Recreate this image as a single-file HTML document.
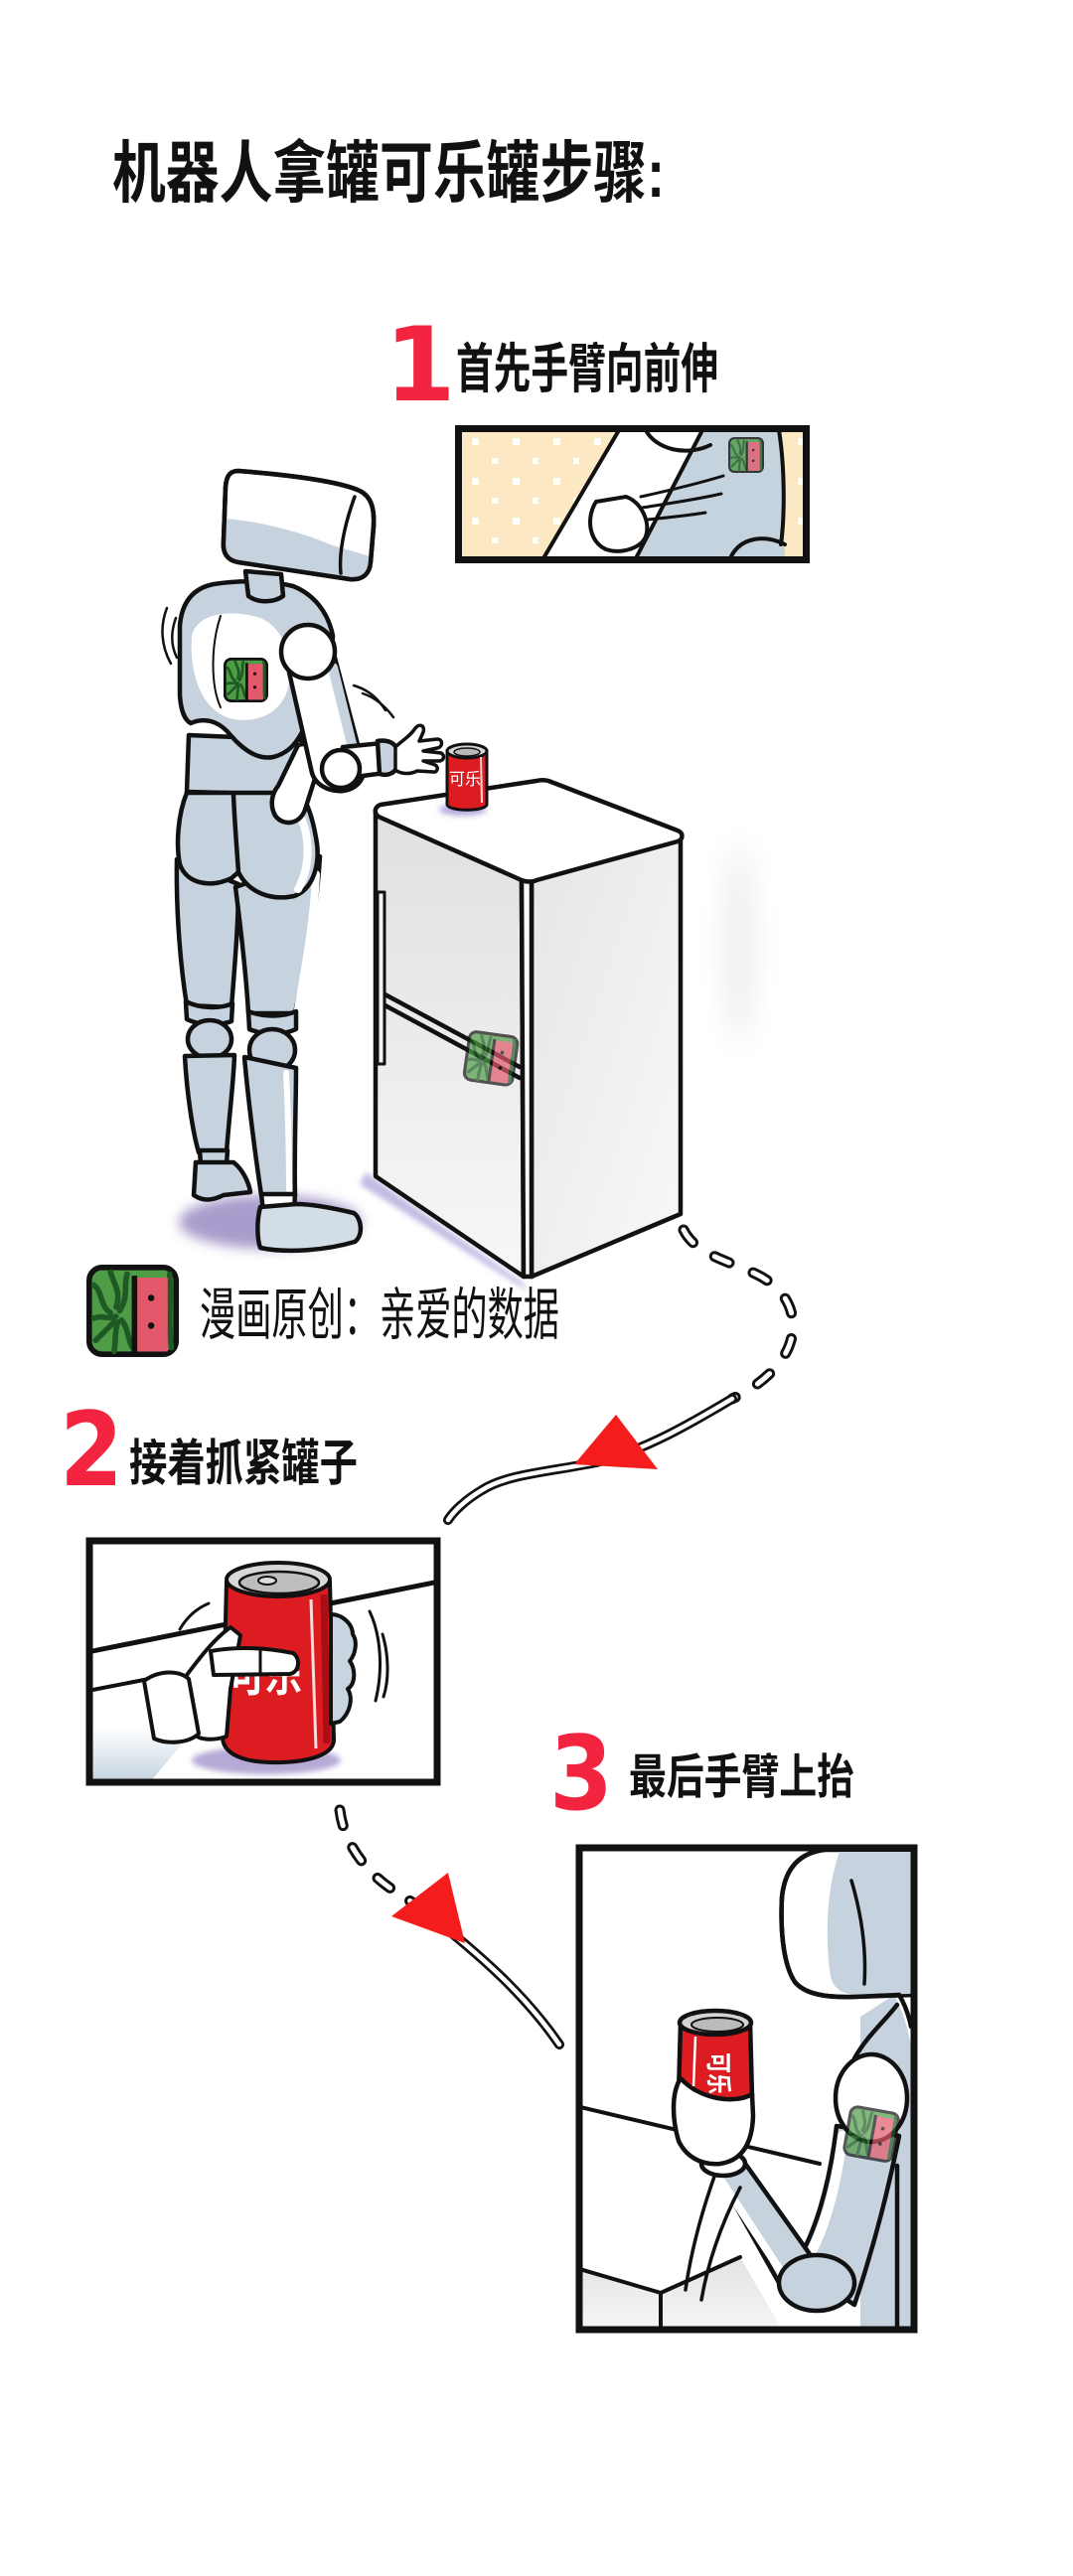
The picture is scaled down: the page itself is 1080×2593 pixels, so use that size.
<!DOCTYPE html>
<html><head><meta charset="utf-8">
<style>
html,body{margin:0;padding:0;background:#fff;}
svg{display:block;}
.t{font-family:"Liberation Sans","Noto Sans CJK SC",sans-serif;fill:#111;}
.n{font-family:"DejaVu Sans","Liberation Sans",sans-serif;font-weight:700;fill:#f2243f;}
</style></head><body>
<svg width="1080" height="2593" viewBox="0 0 1080 2593" xmlns="http://www.w3.org/2000/svg">
<defs>
 <filter id="b14" x="-100%" y="-50%" width="300%" height="200%"><feGaussianBlur stdDeviation="14"/></filter>
 <filter id="b6" x="-50%" y="-50%" width="200%" height="200%"><feGaussianBlur stdDeviation="6"/></filter>
 <filter id="b3" x="-50%" y="-50%" width="200%" height="200%"><feGaussianBlur stdDeviation="3"/></filter>
 <linearGradient id="fl" x1="0" y1="0" x2="0" y2="1"><stop offset="0" stop-color="#e0e0e0"/><stop offset="1" stop-color="#f7f7f7"/></linearGradient>
 <linearGradient id="fr" x1="0" y1="0" x2="1" y2="1"><stop offset="0" stop-color="#e6e6e6"/><stop offset="1" stop-color="#f8f8f8"/></linearGradient>
 <linearGradient id="arm2" x1="0" y1="0" x2="0" y2="1"><stop offset="0" stop-color="#ffffff"/><stop offset="0.45" stop-color="#ffffff"/><stop offset="1" stop-color="#c5d3df"/></linearGradient>
 <linearGradient id="cnt" x1="0" y1="0" x2="0" y2="1"><stop offset="0" stop-color="#e2e2e2"/><stop offset="1" stop-color="#f7f7f7"/></linearGradient>
 <pattern id="dots" x="465" y="435" width="41" height="40" patternUnits="userSpaceOnUse"><rect x="10" y="6" width="7" height="7" fill="#fff"/><rect x="30" y="26" width="6" height="6" fill="#fff"/></pattern>
 <clipPath id="p1"><rect x="465" y="435" width="343" height="125"/></clipPath>
 <clipPath id="p2"><rect x="93" y="1554" width="344" height="237"/></clipPath>
 <clipPath id="p3"><rect x="586" y="1863" width="331" height="479"/></clipPath>
 <g id="wm">
  <rect x="3" y="3" width="94" height="94" rx="14" fill="#4f9c46" stroke="#111" stroke-width="6"/>
  <g stroke="#1f5a25" stroke-width="6" fill="none" stroke-linecap="round">
   <path d="M8,22 C18,30 14,44 26,52"/>
   <path d="M26,8 C30,22 38,30 32,46"/>
   <path d="M44,10 C40,24 46,34 36,50"/>
   <path d="M8,58 C18,54 22,60 32,56"/>
   <path d="M10,82 C18,74 22,70 30,62"/>
   <path d="M30,94 C32,82 30,74 34,62"/>
   <path d="M50,90 C44,80 46,70 38,60"/>
   <path d="M90,10 C92,40 88,60 92,90"/>
  </g>
  <rect x="52" y="14" width="36" height="80" fill="#e2596b"/>
  <path d="M52,12 L52,95" stroke="#111" stroke-width="6"/>
  <circle cx="70" cy="36" r="3.5" fill="#111"/>
  <circle cx="70" cy="66" r="3.5" fill="#111"/>
  <circle cx="52" cy="52" r="3" fill="#111"/>
 </g>
</defs>

<!-- TITLE -->
<text class="t" x="113" y="198" font-size="68" font-weight="700" textLength="556" lengthAdjust="spacingAndGlyphs">机器人拿罐可乐罐步骤:</text>

<!-- STEP 1 LABEL -->
<text class="n" x="387" y="403" font-size="103">1</text>
<text class="t" x="459" y="390" font-size="54" font-weight="700" textLength="264" lengthAdjust="spacingAndGlyphs">首先手臂向前伸</text>

<!-- PANEL 1 -->
<g clip-path="url(#p1)">
 <rect x="465" y="435" width="343" height="125" fill="#fde8c4"/>
 <rect x="465" y="435" width="343" height="125" fill="url(#dots)"/>
 <polygon points="623,433 707,433 640,562 547,562" fill="#fff"/>
 <polygon points="707,433 786,433 790,562 640,562" fill="#c5d3df"/>
 <g stroke="#111" stroke-width="4" fill="none" stroke-linecap="round">
  <path d="M623,433 L547,562"/>
  <path d="M707,433 L640,562"/>
  <path d="M650,433 C660,452 690,460 715,448"/>
  <path d="M784,433 C790,470 790,520 786,548"/>
  <path d="M735,562 C745,540 770,538 790,548"/>
 </g>
 <path d="M600,505 C590,520 592,545 610,553 C625,558 645,552 650,540 C655,525 645,505 630,500 Z" fill="#fff" stroke="#111" stroke-width="4"/>
 <g stroke="#111" stroke-width="3" fill="none" stroke-linecap="round">
  <path d="M645,500 C672,494 702,487 728,479"/>
  <path d="M646,511 C672,507 700,503 726,497"/>
  <path d="M652,523 C672,521 692,519 710,516"/>
 </g>
 <use href="#wm" transform="translate(733,440) scale(0.36)" opacity="0.8"/>
</g>
<rect x="461.5" y="431.5" width="350" height="132" fill="none" stroke="#111" stroke-width="7"/>

<!-- FRIDGE side shadow -->
<ellipse cx="744" cy="950" rx="14" ry="100" fill="#ececec" filter="url(#b14)"/>
<!-- FRIDGE bottom purple shadow -->
<path d="M368,1180 L525,1290 L532,1300 L362,1192 Z" fill="#b4a8dc" filter="url(#b3)" opacity="0.8"/>

<!-- MAIN ROBOT -->
<ellipse cx="272" cy="1230" rx="92" ry="27" fill="#a99bcb" filter="url(#b6)"/>
<g stroke="#111" stroke-width="4.5" stroke-linejoin="round" stroke-linecap="round">
 <!-- left leg -->
 <path d="M178,865 C177,920 182,975 188,1012 L233,1014 C236,975 240,930 240,890 Z" fill="#c6d3df"/>
 <path d="M187,1008 C200,1015 222,1016 234,1010 L233,1028 C220,1033 200,1032 188,1026 Z" fill="#c6d3df"/>
 <ellipse cx="211" cy="1046" rx="22" ry="19" fill="#c6d3df"/>
 <path d="M186,1063 C188,1100 194,1140 200,1160 L228,1160 C231,1120 235,1090 236,1062 Z" fill="#c6d3df"/>
 <path d="M201,1158 L229,1158 L228,1172 L202,1172 Z" fill="#c6d3df"/>
 <path d="M197,1170 L195,1203 C205,1210 215,1208 225,1203 L252,1200 C250,1188 243,1176 235,1170 Z" fill="#c6d3df"/>
 <!-- right leg -->
 <path d="M237,893 C243,940 248,985 250,1020 L297,1020 C305,980 318,930 322,862 Z" fill="#c6d3df"/>
 <path d="M300,1016 C307,975 316,930 318,880" stroke="#fff" stroke-width="8" fill="none"/>
 <path d="M250,1018 C265,1024 285,1024 298,1018 L298,1036 C285,1042 265,1042 251,1036 Z" fill="#c6d3df"/>
 <ellipse cx="274" cy="1057" rx="23" ry="21" fill="#c6d3df"/>
 <path d="M246,1064 C250,1110 258,1170 263,1203 L297,1203 C296,1160 298,1110 298,1075 Z" fill="#c6d3df"/>
 <path d="M288,1080 C290,1120 291,1160 291,1198" stroke="#fff" stroke-width="6" fill="none"/>
 <path d="M263,1202 L297,1202 L296,1218 L265,1220 Z" fill="#fff"/>
 <path d="M262,1215 C258,1230 259,1248 262,1256 C290,1262 330,1258 357,1250 C366,1244 364,1226 356,1221 C335,1216 315,1212 298,1212 Z" fill="#d3dde6"/>
 <!-- abdomen + pelvis -->
 <path d="M190,740 L188,797 L303,800 L308,745 Z" fill="#c6d3df"/>
 <path d="M188,798 C179,820 177,850 181,870 C188,890 212,894 233,884 L240,878 C250,898 272,907 296,902 C316,895 323,868 318,843 C314,820 308,806 302,798 Z" fill="#c6d3df"/>
 <path d="M298,815 C312,835 314,870 300,895" stroke="#fff" stroke-width="8" fill="none"/>
 <path d="M240,878 C238,850 236,825 235,800" fill="none"/>
 <!-- torso shell -->
 <path d="M215,588 C195,592 183,605 181,630 L181,700 C182,715 186,725 192,728 C205,722 220,725 232,740 C245,755 260,765 275,762 C292,758 300,745 305,735 L330,700 L335,640 C330,615 315,598 295,590 C270,584 240,584 215,588 Z" fill="#c6d3df"/>
 <path d="M193,640 C198,618 230,612 262,622 C285,632 296,660 290,692 C284,716 262,728 236,724 C210,720 190,690 193,640 Z" fill="#fff" stroke="none"/>
 <path d="M222,620 C212,650 212,690 222,712" fill="none" stroke-width="2"/>
 <!-- left (near hip) arm -->
 <path d="M300,750 C312,746 324,756 322,768 L307,815 C302,830 285,832 277,821 C271,810 274,798 280,791 Z" fill="#fff"/>
 <!-- reaching arm -->
 <path d="M289,668 L337,662 L366,772 C368,790 350,800 333,795 C322,792 316,785 314,778 Z" fill="#fff"/>
 <path d="M335,672 L358,765" stroke="#c6d3df" stroke-width="10" fill="none"/>
 <circle cx="310" cy="656" r="27" fill="#fff"/>
 <path d="M345,752 L385,748 L388,778 L350,783 Z" fill="#fff"/>
 <circle cx="343" cy="774" r="19" fill="#fff"/>
 <path d="M380,746 C390,744 398,748 400,755 L400,772 C396,780 388,781 382,779 Z" fill="#c6d3df"/>
 <path d="M398,752 C405,745 412,742 418,733 C422,728 428,730 426,737 L422,746 L440,744 C446,744 446,752 440,753 L426,756 L444,758 C448,760 447,766 442,766 L426,766 L438,770 C442,772 440,778 436,777 L420,776 C412,780 403,779 398,775 Z" fill="#fff" stroke-width="3.5"/>
 <!-- neck -->
 <path d="M247,575 L250,600 C260,607 275,607 285,600 L283,578 Z" fill="#c6d3df"/>
 <!-- head -->
 <path d="M240,474 C290,478 340,484 362,494 C374,500 377,512 376,530 L373,566 C372,578 365,584 352,583 L240,566 C228,564 224,556 225,545 L227,490 C228,478 232,474 240,474 Z" fill="#fff"/>
 <path d="M227,522 C262,525 302,535 332,548 L372,560 L372,570 C370,578 365,582 355,581 L240,566 C230,564 227,560 227,550 Z" fill="#c6d3df" stroke="none"/>
 <path d="M240,474 C290,478 340,484 362,494 C374,500 377,512 376,530 L373,566 C372,578 365,584 352,583 L240,566 C228,564 224,556 225,545 L227,490 C228,478 232,474 240,474 Z" fill="none"/>
 <path d="M357,500 C346,530 341,558 343,577" fill="none" stroke-width="3.5"/>
</g>
<use href="#wm" transform="translate(225,662) scale(0.45)"/>
<g stroke="#111" stroke-width="2.5" fill="none" stroke-linecap="round">
 <path d="M168,612 C161,630 162,650 172,668"/>
 <path d="M177,622 C172,636 172,650 178,662"/>
 <path d="M356,690 C370,694 380,702 388,715"/>
 <path d="M365,698 C377,702 388,711 396,722"/>
</g>

<!-- FRIDGE -->
<g stroke="#111" stroke-width="4.5" stroke-linejoin="round" stroke-linecap="round">
 <path d="M378,816 L525,886 L527,1285 L378,1184 Z" fill="url(#fl)"/>
 <path d="M535,886 L685,844 L685,1222 L535,1285 Z" fill="url(#fr)"/>
 <path d="M525,886 L535,886 L535,1285 L527,1285 Z" fill="#fafafa"/>
 <path d="M383,810 C377,812 376,818 381,822 L525,886 C530,888 536,888 540,886 L682,847 C688,845 688,838 682,836 L552,786 C548,785 544,785 540,786 Z" fill="#fff"/>
 <path d="M380,997 L523,1074" fill="none"/>
 <path d="M380,1008 L523,1085" fill="none"/>
 <rect x="380" y="898" width="7" height="173" fill="#f2f2f2" stroke-width="3"/>
</g>
<use href="#wm" transform="translate(472,1036) rotate(8) scale(0.52)" opacity="0.7"/>
<!-- can on fridge -->
<ellipse cx="466" cy="815" rx="24" ry="6" fill="#b4a8dc" filter="url(#b3)"/>
<g stroke="#111" stroke-width="3">
 <path d="M450,756 L450,810 C452,817 488,817 490,810 L490,756 Z" fill="#dd1c22"/>
 <ellipse cx="470" cy="756" rx="20" ry="7" fill="#d6d6d6"/>
 <ellipse cx="470" cy="757" rx="13" ry="4" fill="#b8b8b8" stroke-width="1.5"/>
</g>
<path d="M484,762 L485,808" stroke="#fff" stroke-width="2" opacity="0.8"/>
<text x="452" y="790" font-family="'Liberation Sans','Noto Sans CJK SC',sans-serif" font-size="17" fill="#fff" textLength="32" lengthAdjust="spacingAndGlyphs">可乐</text>

<!-- CREDIT -->
<use href="#wm" transform="translate(87,1273) scale(0.93)"/>
<text class="t" x="201" y="1343" font-size="57" font-weight="400" textLength="362" lengthAdjust="spacingAndGlyphs">漫画原创：亲爱的数据</text>

<!-- CONNECTOR 1 -->
<g fill="none" stroke-linecap="round">
 <path d="M688,1238 C700,1262 730,1268 760,1282 C790,1296 802,1320 797,1345 C792,1372 765,1395 737,1408" stroke="#111" stroke-width="11" stroke-dasharray="16 26"/>
 <path d="M688,1238 C700,1262 730,1268 760,1282 C790,1296 802,1320 797,1345 C792,1372 765,1395 737,1408" stroke="#fff" stroke-width="5" stroke-dasharray="16 26"/>
 <path d="M737,1408 C700,1430 650,1460 600,1472 C550,1482 510,1484 485,1500 C468,1510 456,1522 451,1530" stroke="#111" stroke-width="10"/>
 <path d="M737,1408 C700,1430 650,1460 600,1472 C550,1482 510,1484 485,1500 C468,1510 456,1522 451,1530" stroke="#fff" stroke-width="4.5"/>
</g>
<polygon points="620,1424 662,1479 578,1474" fill="#f41c1c"/>

<!-- STEP 2 LABEL -->
<text class="n" x="60" y="1495" font-size="103" textLength="64" lengthAdjust="spacingAndGlyphs">2</text>
<text class="t" x="130" y="1490" font-size="50" font-weight="700" textLength="230" lengthAdjust="spacingAndGlyphs">接着抓紧罐子</text>

<!-- PANEL 2 -->
<g clip-path="url(#p2)">
 <rect x="93" y="1554" width="344" height="237" fill="#fff"/>
 <path d="M88,1663 L442,1592" stroke="#111" stroke-width="5"/>
 <path d="M88,1702 L150,1690 L192,1745 L150,1795 L88,1795 Z" fill="url(#arm2)"/>
 <path d="M88,1702 L150,1690" stroke="#111" stroke-width="4"/>
 <ellipse cx="268" cy="1772" rx="75" ry="14" fill="#b5a9d6" filter="url(#b3)"/>
 <g stroke="#111" stroke-width="4" stroke-linejoin="round">
  <path d="M228,1592 L224,1750 C226,1768 250,1775 283,1774 C315,1773 335,1765 336,1752 L332,1592 Z" fill="#dc1c20"/>
  <ellipse cx="280" cy="1590" rx="52" ry="17" fill="#d8d8d8"/>
  <ellipse cx="281" cy="1593" rx="40" ry="11" fill="#bdbdbd" stroke-width="2.5"/>
  <ellipse cx="269" cy="1591" rx="9" ry="4" fill="#ddd" stroke-width="2"/>
 </g>
 <path d="M326,1605 L329,1755" stroke="#a70f14" stroke-width="7"/>
 <path d="M313,1610 L318,1760" stroke="#fff" stroke-width="3" opacity="0.85"/>
 <text x="230" y="1702" font-family="'Liberation Sans','Noto Sans CJK SC',sans-serif" font-size="44" font-weight="700" fill="#fff" textLength="74" lengthAdjust="spacingAndGlyphs">可乐</text>
 <g stroke="#111" stroke-width="4" stroke-linejoin="round">
  <path d="M185,1690 C200,1670 215,1650 232,1638 L242,1646 L232,1700 L228,1748 C215,1752 200,1752 195,1745 Z" fill="#fff"/>
  <path d="M145,1692 C160,1681 180,1681 190,1690 L200,1745 C190,1755 168,1756 155,1750 Z" fill="#fff"/>
  <path d="M212,1662 C240,1657 270,1659 295,1664 C303,1670 301,1683 292,1685 L215,1686 Z" fill="#fff"/>
  <path d="M262,1661 L262,1685" fill="none" stroke-width="3"/>
  <path d="M333,1625 C345,1625 355,1635 355,1645 C360,1652 358,1665 352,1672 C358,1680 358,1695 350,1700 C356,1710 352,1725 342,1733 L333,1735 Z" fill="#c8d5e0"/>
 </g>
 <g stroke="#111" stroke-width="3" fill="none" stroke-linecap="round">
  <path d="M181,1640 C188,1628 198,1619 210,1614"/>
  <path d="M372,1622 C383,1645 386,1680 378,1712"/>
  <path d="M385,1645 C391,1665 392,1690 386,1708"/>
 </g>
</g>
<rect x="90" y="1551" width="350" height="243" fill="none" stroke="#111" stroke-width="7"/>

<!-- CONNECTOR 2 -->
<g fill="none" stroke-linecap="round">
 <path d="M342,1822 C346,1855 368,1885 398,1904 C405,1909 412,1913 420,1918" stroke="#111" stroke-width="11" stroke-dasharray="16 24"/>
 <path d="M342,1822 C346,1855 368,1885 398,1904 C405,1909 412,1913 420,1918" stroke="#fff" stroke-width="5" stroke-dasharray="16 24"/>
 <path d="M455,1946 C490,1975 530,2010 563,2058" stroke="#111" stroke-width="10"/>
 <path d="M455,1946 C490,1975 530,2010 563,2058" stroke="#fff" stroke-width="4.5"/>
</g>
<polygon points="451,1885 394,1929 468,1956" fill="#f41c1c"/>

<!-- STEP 3 LABEL -->
<text class="n" x="553" y="1821" font-size="103" textLength="64" lengthAdjust="spacingAndGlyphs">3</text>
<text class="t" x="633" y="1805" font-size="48" font-weight="700" textLength="227" lengthAdjust="spacingAndGlyphs">最后手臂上抬</text>

<!-- PANEL 3 -->
<g clip-path="url(#p3)">
 <rect x="586" y="1863" width="331" height="479" fill="#fff"/>
 <path d="M583,2283 L665,2308 L745,2272 L790,2350 L583,2350 Z" fill="url(#cnt)"/>
 <g stroke="#111" stroke-width="4" fill="none" stroke-linecap="round">
  <path d="M580,2120 L825,2178"/>
  <path d="M580,2283 L665,2308 L665,2350"/>
  <path d="M665,2308 L745,2272"/>
 </g>
 <path d="M900,2008 C912,2030 920,2060 920,2100 L920,2350 L866,2350 L866,2030 Z" fill="#c6d3df"/>
 <g stroke="#111" stroke-width="4.5" stroke-linejoin="round" stroke-linecap="round">
  <path d="M830,1862 C805,1865 790,1880 787,1910 C785,1950 790,1980 800,1995 C810,2007 830,2011 860,2010 L920,2008 L920,1862 Z" fill="#fff"/>
  <path d="M845,1864 C832,1900 830,1950 836,1990 C840,2004 850,2008 866,2008 L918,2007 L918,1864 Z" fill="#c6d3df" stroke="none"/>
  <path d="M830,1862 C805,1865 790,1880 787,1910 C785,1950 790,1980 800,1995 C810,2007 830,2011 860,2010 L905,2008" fill="none"/>
  <path d="M857,1893 C868,1930 872,1965 870,1997" fill="none" stroke-width="3.5"/>
  <path d="M905,2008 C912,2020 915,2030 917,2040" fill="none"/>
  <path d="M903,2018 C890,2035 872,2050 860,2072" fill="none"/>
  <path d="M842,2140 C835,2200 820,2250 800,2280 L860,2320 C880,2260 895,2200 905,2150 Z" fill="#c6d3df"/>
  <path d="M848,2150 C842,2200 830,2245 812,2275" stroke="#fff" stroke-width="10" fill="none"/>
  <path d="M712,2170 L748,2175 L830,2290 L792,2312 Z" fill="#c6d3df"/>
  <path d="M716,2180 L795,2300" stroke="#fff" stroke-width="8" fill="none"/>
  <ellipse cx="822" cy="2298" rx="38" ry="28" fill="#c6d3df"/>
  <ellipse cx="877" cy="2112" rx="36" ry="44" fill="#fff"/>
  <path d="M720,2188 C705,2230 695,2270 690,2305" fill="none" stroke-width="3.5"/>
  <path d="M745,2202 C725,2240 712,2280 706,2315" fill="none" stroke-width="3.5"/>
  <path d="M903,2180 L903,2350" fill="none"/>
  <ellipse cx="728" cy="2178" rx="22" ry="12" fill="#fff"/>
  <path d="M685,2036 L683,2108 C690,2118 740,2120 757,2110 L755,2036 Z" fill="#dc1c20"/>
  <ellipse cx="720" cy="2036" rx="36" ry="12" fill="#d4d4d4"/>
  <ellipse cx="722" cy="2038" rx="26" ry="7" fill="#bbb" stroke-width="2"/>
  <path d="M685,2092 C675,2108 677,2135 683,2155 C690,2170 705,2180 725,2178 C745,2175 757,2160 758,2130 L757,2108 C740,2118 705,2114 685,2092 Z" fill="#fff"/>
 </g>
 <path d="M700,2050 L698,2100" stroke="#fff" stroke-width="2.5"/>
 <text x="0" y="0" font-family="'Liberation Sans','Noto Sans CJK SC',sans-serif" font-size="26" font-weight="700" fill="#fff" transform="translate(714,2066) rotate(90)" textLength="42" lengthAdjust="spacingAndGlyphs">可乐</text>
 <use href="#wm" transform="translate(856,2118) rotate(10) scale(0.52)" opacity="0.7"/>
</g>
<rect x="583" y="1860" width="337" height="485" fill="none" stroke="#111" stroke-width="7"/>
</svg>
</body></html>
